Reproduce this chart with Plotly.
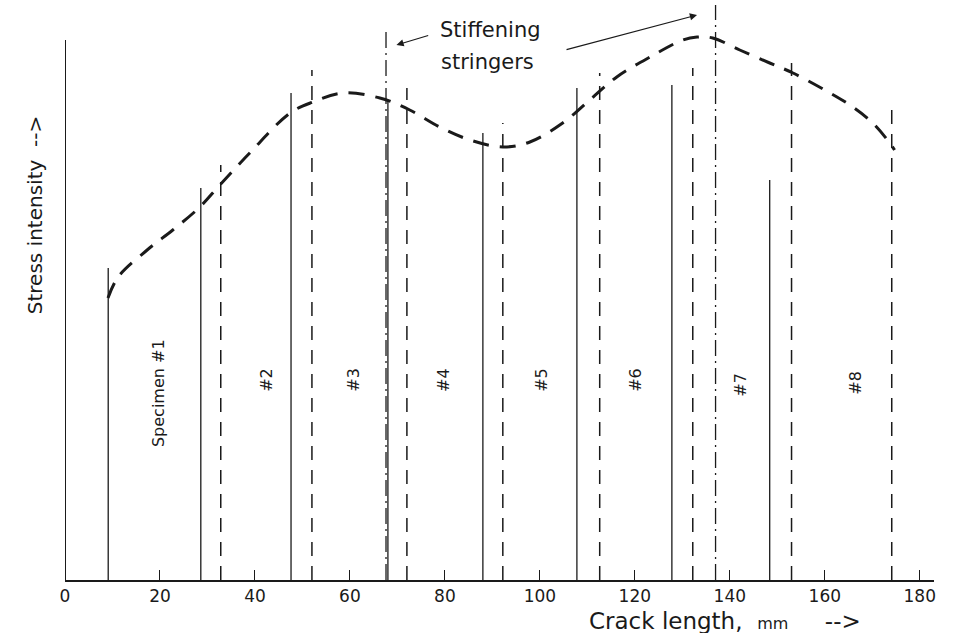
import plotly.graph_objects as go

# Stress-intensity curve (crack length mm, arbitrary stress units)
curve_x = [9.05, 11.2, 17.3, 22.7, 28.4, 32.6, 38.9, 47.4, 52.2, 58.5, 66.3, 72.6, 78.9,
           85.3, 92.2, 97.9, 104.8, 110.5, 116.2, 123.2, 130.1, 133.1, 136.4, 142.1,
           148.4, 153.3, 161.1, 165.9, 170.1, 173.7, 174.7]
curve_y = [282, 303, 330, 350, 373, 395, 427, 467, 478, 487, 482, 470, 453,
           440, 433, 438, 457, 480, 503, 523, 540, 543, 542, 530,
           517, 507, 487, 473, 457, 437, 430]

# Specimen boundaries
solid_x = [9.1, 28.6, 47.6, 68.0, 88.0, 107.8, 127.8, 148.4]
solid_top = [312, 392, 487, 480, 447, 492, 495, 400]
dashed_x = [32.8, 52.0, 72.0, 92.2, 112.6, 132.2, 153.0, 174.1]
dashed_top = [415, 510, 492, 457, 507, 512, 517, 470]
stringer_x = [67.6, 137.0]
stringer_top = [550, 575]

spec_labels = ["Specimen #1", "#2", "#3", "#4", "#5", "#6", "#7", "#8"]
spec_label_x = [19.6, 42.3, 60.6, 79.6, 100.2, 120.0, 142.1, 166.3]
spec_label_y = [187, 200, 200, 200, 200, 200, 195, 197]

x_ticks = [0, 20, 40, 60, 80, 100, 120, 140, 160, 180]

INK = "#1a1a1a"
FONT = "DejaVu Sans"


def vlines(xs, tops):
    X, Y = [], []
    for x, t in zip(xs, tops):
        X += [x, x, None]
        Y += [0, t, None]
    return X, Y


fig = go.Figure()

sx, sy = vlines(solid_x, solid_top)
fig.add_trace(go.Scatter(x=sx, y=sy, mode="lines", line=dict(color=INK, width=1.3),
                         hoverinfo="skip", showlegend=False))
dx, dy = vlines(dashed_x, dashed_top)
fig.add_trace(go.Scatter(x=dx, y=dy, mode="lines",
                         line=dict(color=INK, width=1.5, dash="14px,10px"),
                         hoverinfo="skip", showlegend=False))
tx, ty = vlines(stringer_x, stringer_top)
fig.add_trace(go.Scatter(x=tx, y=ty, mode="lines",
                         line=dict(color=INK, width=1.3, dash="16px,5px,2px,5px"),
                         hoverinfo="skip", showlegend=False))

fig.add_trace(go.Scatter(x=curve_x, y=curve_y, mode="lines",
                         line=dict(color=INK, width=3, dash="16px,11px", shape="spline"),
                         hoverinfo="skip", showlegend=False))

annotations = []
for t, x, y in zip(spec_labels, spec_label_x, spec_label_y):
    annotations.append(dict(x=x, y=y, xref="x", yref="y", text=t, showarrow=False,
                            textangle=-90, font=dict(family=FONT, size=16, color=INK)))

annotations += [
    dict(x=89.5, y=550, xref="x", yref="y", text="Stiffening", showarrow=False,
         font=dict(family=FONT, size=21, color=INK)),
    dict(x=89.0, y=518, xref="x", yref="y", text="stringers", showarrow=False,
         font=dict(family=FONT, size=21, color=INK)),
    dict(x=69.8, y=535, xref="x", yref="y", ax=76.8, ay=545, axref="x", ayref="y",
         text="", showarrow=True, arrowhead=2, arrowsize=1.2, arrowwidth=1.2, arrowcolor=INK),
    dict(x=133.1, y=565, xref="x", yref="y", ax=105.3, ay=530, axref="x", ayref="y",
         text="", showarrow=True, arrowhead=2, arrowsize=1.2, arrowwidth=1.2, arrowcolor=INK),
    dict(x=0.759, y=-0.0707, xref="paper", yref="paper", xanchor="center", yanchor="middle",
         showarrow=False,
         text="Crack length,  <span style='font-size:16px'>mm</span>     -->",
         font=dict(family=FONT, size=23, color=INK)),
    dict(x=-0.0345, y=0.629, xref="paper", yref="paper", xanchor="center", yanchor="middle",
         showarrow=False, textangle=-90,
         text="Stress intensity  -->", font=dict(family=FONT, size=20, color=INK)),
]

fig.add_shape(type="line", x0=0, y0=0, x1=0, y1=540, xref="x", yref="y",
              line=dict(color=INK, width=2))

fig.update_layout(
    width=961, height=633,
    margin=dict(l=65, r=27, t=0, b=53),
    paper_bgcolor="white", plot_bgcolor="white",
    annotations=annotations,
    xaxis=dict(range=[0, 183], tickvals=x_ticks, ticktext=[str(v) for v in x_ticks],
               ticks="inside", ticklen=10, tickwidth=1.3, tickcolor=INK,
               showline=True, linecolor=INK, linewidth=2, showgrid=False, zeroline=False,
               tickfont=dict(family=FONT, size=17, color=INK)),
    yaxis=dict(range=[0, 580], showticklabels=False, ticks="", showgrid=False,
               zeroline=False, showline=False),
)

fig.write_html("out.html", config={"displayModeBar": False},
               post_script="document.body.style.margin='0';document.body.style.overflow='hidden';")
